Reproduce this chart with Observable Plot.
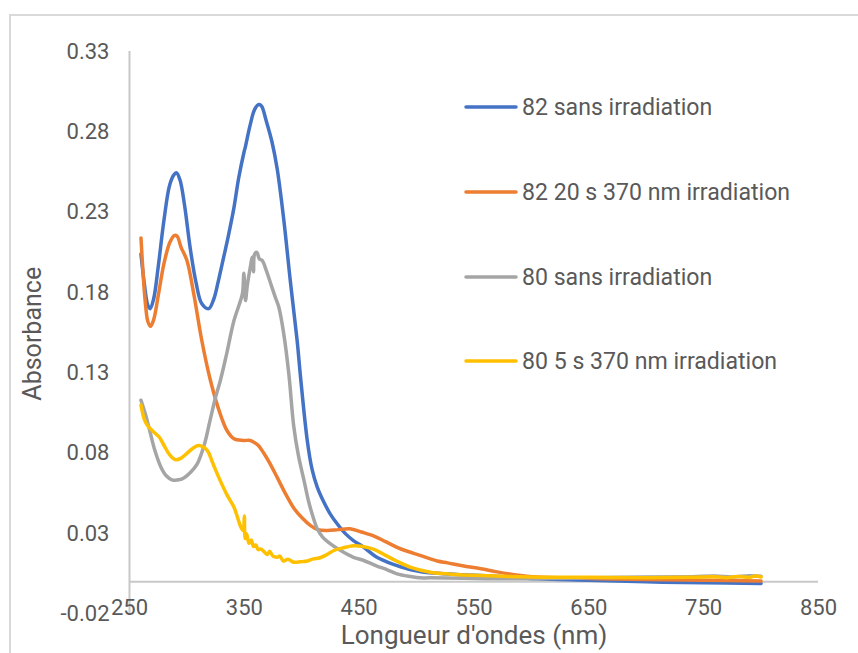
<!DOCTYPE html>
<html>
<head>
<meta charset="utf-8">
<script src="https://cdn.jsdelivr.net/npm/d3@7"></script>
<script src="https://cdn.jsdelivr.net/npm/@observablehq/plot@0.6"></script>
<style>
  html, body { margin: 0; padding: 0; background: #fff; }
  #wrap { position: relative; width: 858px; height: 653px; overflow: hidden; font-family: Roboto, sans-serif; }
  #border { position: absolute; left: 9px; top: 14px; width: 900px; height: 700px; border: 2px solid #d9d9d9; box-sizing: border-box; }
  .item { position: absolute; left: 464px; height: 30px; display: flex; align-items: center; color: #595959; font-size: 23.1px; white-space: nowrap; }
  .item svg { margin-right: 4px; }
</style>
</head>
<body>
<div id="wrap"><div id="border"></div></div>
<script>
// ---- data ----
const seriesNames = ["82 sans irradiation", "82 20 s 370 nm irradiation", "80 sans irradiation", "80 5 s 370 nm irradiation"];
const seriesColors = ["#4472C4", "#ED7D31", "#A5A5A5", "#FFC000"];
const xTicks = [250, 350, 450, 550, 650, 750, 850];
const yTicks = [-0.02, 0.03, 0.08, 0.13, 0.18, 0.23, 0.28, 0.33];

const wl82 = [260, 263, 266, 268, 271, 275, 280, 285, 289, 291, 294, 298, 303, 308, 313, 319, 323.4, 327, 332, 336, 341, 345, 349.6, 351, 355, 359, 362.5, 365, 369, 374, 378.6, 384.4, 390, 396, 399, 404.8, 409, 413.5, 419, 425, 431, 438, 445, 454, 464, 474, 483, 495, 505, 515, 535, 556, 580, 605, 650, 700, 750, 800];
const abs82 = [0.204, 0.185, 0.172, 0.170, 0.176, 0.196, 0.225, 0.247, 0.2535, 0.2545, 0.250, 0.234, 0.207, 0.186, 0.173, 0.170, 0.176, 0.186, 0.202, 0.215, 0.233, 0.251, 0.267, 0.271, 0.284, 0.294, 0.297, 0.296, 0.287, 0.274, 0.257, 0.225, 0.1875, 0.150, 0.127, 0.088, 0.070, 0.059, 0.050, 0.042, 0.036, 0.030, 0.0257, 0.0215, 0.016, 0.0125, 0.0101, 0.0075, 0.0062, 0.0055, 0.0046, 0.0039, 0.003, 0.0019, 0.001, 0.0, -0.0005, -0.001];

const wl82irr = [260, 262, 264, 266, 268.3, 271, 275, 280, 285, 289, 291.5, 295, 300, 306, 313, 320.6, 329, 335, 341, 349, 355, 358, 362, 367, 372, 378.6, 385, 393, 400, 407.7, 414, 422, 432, 442, 452, 463, 473, 483, 490, 503, 518, 527, 540, 556, 570, 585, 605, 630, 660, 700, 750, 800];
const abs82irr = [0.214, 0.190, 0.172, 0.162, 0.159, 0.163, 0.178, 0.198, 0.211, 0.2155, 0.215, 0.208, 0.200, 0.179, 0.150, 0.125, 0.1045, 0.094, 0.089, 0.088, 0.088, 0.087, 0.085, 0.080, 0.074, 0.065, 0.056, 0.046, 0.040, 0.035, 0.0325, 0.032, 0.0325, 0.033, 0.031, 0.0285, 0.025, 0.0215, 0.0195, 0.0165, 0.013, 0.0118, 0.010, 0.0081, 0.0062, 0.0045, 0.003, 0.0025, 0.002, 0.0015, 0.001, 0.0005];

const wl80 = [260, 264, 268, 272, 277, 282, 287, 293, 298, 303, 309, 315, 320, 325, 329, 334, 341, 346.7, 348.5, 349.6, 351, 352.5, 355, 357, 358, 359, 361, 363, 365.5, 369, 373, 377, 380, 384.4, 388.8, 393, 397, 402, 406, 410, 413.5, 418, 425, 435, 445, 454, 465, 474.5, 483, 495, 503, 512, 560, 600, 650, 700, 740, 760, 775, 790, 800];
const abs80 = [0.113, 0.104, 0.093, 0.082, 0.072, 0.066, 0.0635, 0.0635, 0.065, 0.068, 0.0734, 0.085, 0.100, 0.115, 0.125, 0.140, 0.1626, 0.175, 0.180, 0.192, 0.175, 0.184, 0.195, 0.202, 0.193, 0.204, 0.205, 0.201, 0.200, 0.194, 0.1855, 0.177, 0.171, 0.154, 0.129, 0.097, 0.079, 0.063, 0.050, 0.040, 0.033, 0.028, 0.0236, 0.019, 0.0153, 0.0133, 0.010, 0.0075, 0.005, 0.0033, 0.0025, 0.0025, 0.002, 0.002, 0.0025, 0.003, 0.0032, 0.0036, 0.003, 0.0038, 0.0035];

const wl80irr = [260, 263, 266, 270, 273, 276, 280, 285, 290, 295, 300, 305, 310, 314, 318, 323, 329, 335, 341, 345, 347, 349, 350, 350.7, 352, 354, 356, 358, 360, 362, 364, 367, 370, 372, 375, 378.6, 381, 384, 388, 393, 399, 405, 410, 416, 422, 428, 435, 445, 452, 463, 473, 483, 495, 512, 530, 556, 600, 650, 700, 740, 760, 770, 780, 790, 795, 800];
const abs80irr = [0.110, 0.101, 0.097, 0.094, 0.092, 0.090, 0.085, 0.079, 0.076, 0.077, 0.080, 0.083, 0.0848, 0.084, 0.0815, 0.073, 0.063, 0.054, 0.0464, 0.038, 0.034, 0.032, 0.041, 0.027, 0.030, 0.024, 0.026, 0.022, 0.023, 0.020, 0.0205, 0.019, 0.017, 0.019, 0.016, 0.0153, 0.016, 0.013, 0.014, 0.0122, 0.0125, 0.013, 0.0143, 0.015, 0.017, 0.0195, 0.021, 0.0225, 0.0222, 0.0202, 0.0165, 0.0128, 0.009, 0.006, 0.0048, 0.0039, 0.003, 0.0028, 0.0025, 0.0028, 0.0032, 0.0026, 0.0034, 0.0028, 0.0036, 0.003];

// ---- build ----
const wls = [wl82, wl82irr, wl80, wl80irr];
const abss = [abs82, abs82irr, abs80, abs80irr];
const rows = [];
seriesNames.forEach((name, i) => {
  wls[i].forEach((w, j) => rows.push({series: name, wl: w, a: abss[i][j]}));
});

const chart = Plot.plot({
  width: 858,
  height: 653,
  marginLeft: 129,
  marginRight: 40,
  marginTop: 51,
  marginBottom: 39.5,
  x: {domain: [250, 850], label: null},
  y: {domain: [-0.02, 0.33], label: null},
  color: {domain: seriesNames, range: seriesColors},
  style: {fontFamily: "Roboto, sans-serif", color: "#595959", background: "transparent", overflow: "visible"},
  marks: [
    Plot.ruleX([250], {stroke: "#c8c8c8", strokeWidth: 2}),
    Plot.ruleY([0], {stroke: "#c8c8c8", strokeWidth: 2}),
    Plot.axisY({ticks: yTicks, tickFormat: d => d.toFixed(2), tickSize: 0, tickPadding: 20, fontSize: 22, label: null}),
    Plot.axisX({ticks: xTicks, tickFormat: d => String(d), tickSize: 0, tickPadding: 0, dy: -15, fontSize: 22, label: null}),
    Plot.text(["Absorbance"], {frameAnchor: "left", textAnchor: "middle", lineAnchor: "middle", rotate: -90, dx: -97, dy: 1, fontSize: 25, fill: "#595959"}),
    Plot.text(["Longueur d'ondes (nm)"], {frameAnchor: "bottom", textAnchor: "middle", lineAnchor: "middle", dy: 22, fontSize: 26, fill: "#595959"}),
    Plot.line(rows, {x: "wl", y: "a", z: "series", stroke: "series", strokeWidth: 3.5, curve: "catmull-rom", strokeLinejoin: "round", strokeLinecap: "round"})
  ]
});
const wrap = document.getElementById("wrap");
chart.style.position = "absolute";
chart.style.left = "0px";
chart.style.top = "0px";
wrap.appendChild(chart);

// legend
const legendY = [107, 192, 277, 361];
seriesNames.forEach((name, i) => {
  const item = document.createElement("div");
  item.className = "item";
  item.style.top = (legendY[i] - 15) + "px";
  item.innerHTML = `<svg width="54" height="10"><line x1="2" y1="5" x2="52" y2="5" stroke="${seriesColors[i]}" stroke-width="3.5" stroke-linecap="round"/></svg><span>${name}</span>`;
  wrap.appendChild(item);
});
</script>
</body>
</html>
